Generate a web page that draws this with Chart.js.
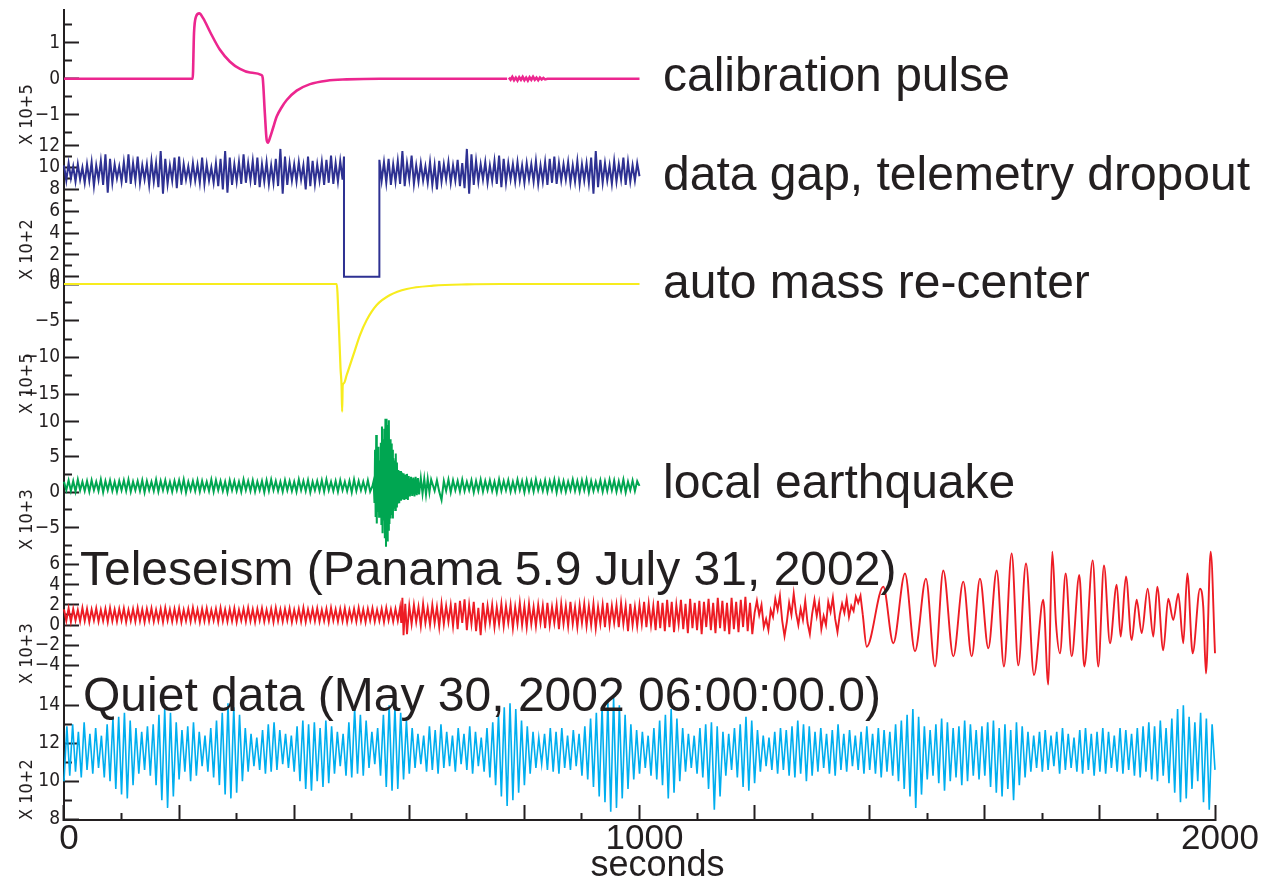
<!DOCTYPE html>
<html><head><meta charset="utf-8">
<script src="https://cdn.jsdelivr.net/npm/chart.js@4"></script>
<style>html,body{margin:0;padding:0;background:#fff;}canvas{display:block;}</style>
</head><body>
<canvas id="c" width="1273" height="884"></canvas>
<script>
// ---------------- DATA (seconds on x, instrument counts on y) ----------------
const xTicks = [0,100,200,300,400,500,600,700,800,900,1000,1100,1200,1300,1400,1500,1600,1700,1800,1900,2000];
const xTickLabels = {0:'0', 1000:'1000', 2000:'2000'};

// 1. calibration pulse (x10+5)
const calTimes  = [0,223.6,225.9,229.4,235.1,242,253.7,271,288.4,305.8,323.2,343.5,345.3,349,352.2,354.5,358,363,369.6,378.3,387,404.3,427.5,456.5,491.2,549,770];
const calValues = [0,0,1.26,1.72,1.81,1.67,1.30,0.80,0.47,0.27,0.17,0.10,0.02,-0.96,-1.70,-1.77,-1.63,-1.38,-1.05,-0.79,-0.59,-0.33,-0.15,-0.055,-0.02,0,0];
const calNoise  = [0.03,-0.03,0.05,-0.04,0.03,-0.05,0.04,-0.03,0.05,-0.04,0.03,-0.05,0.04,-0.03,0.05,-0.03,0.03,-0.04,0.03,-0.02,0.02,-0.02]; // every 3 s from 773 s
const calTailTimes = [840,1000];
const calTailValues = [0,0];

// 2. data gap, telemetry dropout (x10+2) – samples every 4 s
const gapBefore = [10.2,8.8,10.4,9.0,10.1,8.7,10.3,8.9,10.0,8.6,
10.3,8.8,10.5,8.3,10.2,8.9,10.6,8.4,11.2,7.7,
10.8,8.6,10.3,9.0,10.1,8.7,10.5,8.6,11.2,8.5,
10.4,8.8,11.0,8.6,10.2,8.9,10.3,8.4,10.6,8.7,
10.4,8.2,11.5,7.6,10.8,8.5,10.2,8.8,10.9,8.1,
11.0,8.4,10.3,8.9,10.1,8.7,10.4,8.8,10.2,8.6,
10.9,8.5,10.3,8.8,10.0,8.6,10.4,8.3,10.8,8.0,
11.5,7.7,10.9,8.4,10.3,8.7,10.5,8.5,11.2,8.6,
10.4,8.8,10.6,8.4,10.9,8.2,10.3,8.7,10.5,8.5,
10.2,8.6,10.8,8.3,11.7,7.6,11.0,8.4,10.4,8.8,
10.3,8.7,10.5,8.9,10.2,8.0,11.0,8.3,10.6,8.5,
10.3,8.8,10.5,8.4,10.7,8.6,11.1,8.5,10.4,8.7,
10.6,8.9];
const gapEdgeTimes  = [486.5,486.5,548,548];
const gapEdgeValues = [11.0,0,0,10.7];
const gapAfter = [8.8,10.5,8.6,10.8,8.4,10.3,8.7,10.6,8.5,11.5,
8.3,10.4,8.9,11.1,8.5,10.2,8.7,10.4,8.8,10.1,
8.6,10.5,8.4,10.2,8.0,10.6,8.7,10.3,8.9,10.5,
8.6,10.2,8.8,10.7,8.3,10.4,8.1,11.7,7.6,11.2,
8.4,10.6,8.7,10.3,8.9,10.5,8.6,10.2,8.8,10.6,
8.5,11.1,8.2,10.8,8.6,10.4,8.9,10.3,8.7,10.5,
8.8,10.2,8.6,10.4,8.9,10.3,8.7,10.6,8.5,10.2,
8.7,10.5,8.4,10.8,8.6,11.0,8.5,10.4,8.8,10.3,
8.9,10.5,8.6,10.2,8.7,10.6,8.5,10.3,8.8,10.4,
8.6,10.9,7.6,11.5,8.2,10.7,8.6,10.4,8.8,10.2,
8.5,10.6,8.7,10.3,8.9,10.9,8.4,10.5,8.7,10.2,
8.8,10.4,9.2];

// 3. auto mass re-center (x10+5)
const recTimes  = [0,473.8,477.5,480.5,482.3,483.3,484.3,486.5,491.2,502.7,514.3,526,543.4,566.5,595.5,641.7,699.7,760,1000];
const recValues = [0,0,-5.5,-11.5,-13.9,-17.4,-13.8,-13.5,-12.4,-9.7,-6.95,-4.9,-2.86,-1.5,-0.68,-0.23,-0.05,0,0];

// 4. local earthquake (x10+3) – background every 4 s
const eqBefore = [1.5,0.3,1.7,0.2,1.6,0.1,1.8,0.3,1.5,0.2,
1.6,0.1,1.7,0.3,1.5,0.2,1.8,0.0,1.6,0.3,
1.7,0.2,1.5,0.1,1.6,0.3,1.7,0.2,1.8,0.1,
1.5,0.3,1.6,0.2,1.7,0.0,1.6,0.3,1.5,0.2,
1.8,0.1,1.6,0.3,1.7,0.2,1.5,0.1,1.6,0.3,
1.7,0.2,1.8,0.0,1.5,0.3,1.6,0.2,1.7,0.1,
1.6,0.3,1.5,0.2,1.8,0.1,1.7,0.3,1.6,0.2,
1.5,0.0,1.7,0.3,1.6,0.2,1.5,0.1,1.8,0.3,
1.6,0.2,1.7,0.1,1.5,0.3,1.6,0.0,1.7,0.2,
1.8,0.3,1.6,0.2,1.5,0.1,1.7,0.3,1.6,0.2,
1.5,0.1,1.8,0.3,1.6,0.2,1.7,0.0,1.5,0.3,
1.6,0.2,1.7,0.1,1.8,0.3,1.5,0.2,1.6,0.1,
1.7,0.3,1.5,0.2,1.6,0.0,1.8,0.2,1.6,0.3,
1.5,0.2,1.7,0.1];
const quakeTimes  = [536,538,539.5,540.5,541.5,542.5,543.5,544.5,545.5,546.5,547.5,548.5,549.5,550.5,551.5,552.5,553.5,554.5,555.5,556.5,557.5,558.5,559.5,560.5,561.5,562.5,563.5,564.5,565.5,566.5,567.5,568.5,569.5,570.5,571.5,572.5,573.5,574.5,575.5,576.5,577.5,578.5,579.5,581,582.5,584,585.5,587,588.5,590,591.5,593,594.5,596,597.5,599,601,603,605,607,609,611,613,615,617,620,623,626,629,632,635,638];
const quakeValues = [0.9,1.6,-1.5,6.0,-3.5,8.1,-4.4,5.0,-2.8,6.45,-3.45,4.5,-2.5,7.0,-4.5,9.3,-5.8,7.5,-4.0,9.0,-6.5,10.4,-7.7,10.4,-6.8,9.5,-5.3,10.2,-4.5,7.5,-3.7,6.9,-3.2,6.0,-3.7,4.8,-2.2,4.5,-2.5,5.5,-2.0,4.2,-1.6,3.15,-1.56,3.0,-1.2,2.8,-1.0,2.7,-1.1,2.5,-0.8,2.6,-1.1,2.3,-0.6,2.2,-0.5,2.1,-0.6,2.2,-0.4,2.0,-0.3,2.0,-0.2,1.9,-0.3,1.9,0.0,1.8];
const eqAfter = [0.2,1.7,0.1,-1.1,1.6,0.2,1.8,0.0,1.7,0.3,
1.6,0.1,1.8,0.2,1.5,0.3,1.7,0.0,1.6,0.2,
1.8,0.1,1.6,0.3,1.7,0.2,1.5,0.0,1.8,0.2,
1.6,0.3,1.7,0.1,1.5,0.2,1.8,0.3,1.6,0.0,
1.7,0.2,1.6,0.1,1.8,0.3,1.5,0.2,1.7,0.1,
1.6,0.3,1.8,0.0,1.7,0.2,1.6,0.1,1.5,0.3,
1.8,0.2,1.6,0.1,1.7,0.3,1.8,0.0,1.6,0.2,
1.5,0.3,1.7,0.1,1.6,0.2,1.8,0.3,1.7,0.1,
1.6,0.2,1.8,0.0,1.5,0.3,1.7,0.2,1.6,0.9];

// 5. teleseism (x10+3) – pre-event and body waves every 4 s
const teleQuiet = [1.55,0.4,1.65,0.3,1.6,0.45,1.5,0.35,1.7,0.4,
1.6,0.3,1.55,0.45,1.65,0.35,1.5,0.4,1.6,0.3,
1.7,0.4,1.55,0.35,1.6,0.45,1.65,0.3,1.5,0.4,
1.6,0.35,1.7,0.4,1.55,0.3,1.6,0.45,1.65,0.35,
1.5,0.4,1.6,0.3,1.7,0.45,1.55,0.35,1.6,0.4,
1.65,0.3,1.5,0.4,1.6,0.35,1.7,0.45,1.55,0.3,
1.6,0.4,1.65,0.35,1.5,0.45,1.6,0.3,1.7,0.4,
1.55,0.35,1.6,0.4,1.65,0.3,1.5,0.45,1.6,0.35,
1.7,0.4,1.55,0.3,1.6,0.45,1.65,0.35,1.5,0.4,
1.6,0.3,1.7,0.4,1.55,0.35,1.6,0.45,1.65,0.3,
1.5,0.4,1.6,0.35,1.7,0.3,1.55,0.45,1.6,0.4,
1.65,0.35,1.5,0.4,1.6,0.3,1.7,0.45,1.55,0.35,
1.6,0.4,1.65,0.3,1.5,0.45,1.6,0.35,1.7,0.4,
1.55,0.3,1.6,0.45,1.65,0.35,1.5,0.4,1.6,0.3,
1.7,0.45,1.55,0.35,1.6,0.4,1.75];
const arrivalTimes  = [586,588,590,593,596];
const arrivalValues = [0.2,2.7,-1.0,2.1,-0.9];
const teleBody = [1.9,0.1,2.0,0.3,1.8,-0.1,2.1,0.2,1.7,0.0,
2.0,0.2,1.8,-0.2,2.1,0.1,1.9,0.3,2.0,-0.1,
2.2,-0.4,2.4,0.2,2.55,-0.5,2.0,0.1,2.3,-0.6,
1.7,-1.0,2.2,0.0,1.9,0.2,2.0,-0.2,1.8,0.1,
2.1,-0.1,1.9,0.2,2.0,-0.3,1.8,0.1,2.2,0.0,
1.9,-0.2,2.1,0.1,1.8,-0.1,2.0,0.2,1.9,-0.3,
2.2,0.0,1.8,0.2,2.0,-0.4,2.1,0.1,1.9,-0.1,
2.3,0.1,1.8,-0.2,2.0,0.2,2.1,-0.1,1.9,0.0,
2.1,-0.3,1.8,0.1,2.0,-0.2,2.2,0.0,1.9,0.2,
2.0,-0.2,2.2,0.1,1.9,-0.6,2.1,0.0,1.8,-0.1,
2.0,0.1,2.3,-0.2,2.1,0.0,1.9,-0.5,2.4,-0.3,
2.2,-0.6,2.5,-0.2,2.3,-0.7,2.0,0.1,2.5,-0.4,
2.1,-0.8,2.6,-0.3,2.2,-0.5,2.4,-0.9,2.3,-0.2,
2.6,-0.5,2.2,-0.8,2.7,-0.3,2.4,-0.6,2.2,-0.9,
2.7,-0.4,2.3,-0.7,2.5,-0.2,2.8,-0.6,2.2,-0.9,
1.2,2.4,1.0,2.0,-0.2,0.6,-0.5,1.5,0.8,2.6,
1.5,2.9,0.4,-1.1,0.3,2.2,1.0,3.1,1.2,0.0,
1.6,0.5,2.4,0.2,-0.9,1.1,2.5,0.9,2.2,-0.4,
0.9,0.0,2.3,1.3,2.7,0.6,-0.7,1.0,2.1,1.2,
2.6,0.8,1.9,1.4,2.8,2.2,2.9,1.0];
const surfaceTimes  = [1388,1394.8,1423.6,1441.0,1461.3,1478.7,1497.8,1513.4,1527.9,1545.3,1562.6,1577.2,1591.6,1606.1,1620.7,1633.3,1646.7,1658.2,1671.6,1685.5,1701.6,1710.3,1717.3,1723.7,1730.6,1740.5,1751.0,1764.2,1772.9,1787.5,1797.2,1807.1,1817.5,1829.2,1836.1,1845.3,1855.2,1863.9,1872.6,1883.0,1892.8,1899.7,1910.1,1918.8,1927.5,1936.2,1944.9,1951.9,1961.2,1973.9,1979.6,1984.3,1992.5,2000];
const surfaceValues = [1.0,-2.15,3.8,-1.8,5.1,-2.6,4.6,-4.1,5.4,-3.1,4.3,-3.1,4.6,-2.3,5.4,-4.1,7.1,-4.0,6.1,-4.95,2.5,-5.9,7.25,0.2,-2.8,5.1,-3.1,4.95,-4.1,6.4,-4.1,5.9,-1.8,4.0,-1.15,4.8,-1.5,2.5,-0.8,3.6,-1.15,3.8,-2.5,2.6,0.5,3.1,-1.8,5.1,-2.8,3.6,1.8,-4.8,7.25,-2.8];

// 6. quiet data (x10+2) – samples every 5 s
const quietValues = [10.0,12.9,10.3,13.0,10.5,12.6,10.2,13.1,10.6,12.5,
10.4,12.8,10.7,12.4,10.2,13.0,10.0,13.3,9.6,13.4,
9.3,13.6,9.1,13.2,9.8,12.8,10.4,12.6,10.6,12.9,
10.3,13.0,9.8,13.5,9.0,13.8,8.6,13.6,9.2,13.1,
10.1,12.7,10.5,12.9,10.0,13.1,10.3,12.6,10.8,12.4,
10.5,12.8,10.2,13.2,9.8,13.6,9.3,14.1,9.1,13.9,
9.4,13.5,10.0,12.8,10.5,12.5,10.8,12.3,10.6,12.7,
10.4,13.0,10.5,13.1,10.6,12.7,10.9,12.5,10.7,12.4,
10.5,12.9,10.0,13.2,9.6,13.0,9.5,13.1,10.0,12.8,
9.7,13.2,9.9,12.9,10.4,12.6,10.8,12.5,10.3,13.1,
10.2,13.8,10.4,13.5,10.3,13.2,10.7,12.6,10.9,12.8,
10.3,13.5,9.7,14.0,9.5,13.9,9.6,13.6,10.1,13.2,
10.4,12.8,10.7,12.5,10.9,12.4,10.5,12.9,10.6,12.7,
10.4,13.0,10.7,12.6,10.8,12.4,10.5,12.8,10.9,12.5,
10.6,12.9,10.4,12.6,10.8,12.3,10.5,12.8,10.2,13.1,
9.8,13.5,9.2,13.9,8.7,14.1,9.0,13.8,9.4,13.2,
9.8,12.9,10.4,12.6,10.7,12.3,10.9,12.5,10.6,12.8,
10.5,12.6,10.4,12.8,10.7,12.4,10.6,12.7,10.8,12.5,
10.3,12.9,10.1,13.3,9.7,13.6,9.2,13.9,8.9,14.2,
8.4,14.4,8.6,14.0,9.1,13.5,9.6,13.0,10.1,12.7,
10.4,12.6,10.7,12.4,10.3,12.8,10.1,13.2,9.8,13.5,
9.1,13.8,9.4,13.3,10.0,12.8,10.5,12.5,10.7,12.4,
10.4,12.8,10.2,13.0,9.6,13.1,8.5,12.9,9.2,12.6,
10.3,12.5,10.6,12.8,10.2,13.0,9.7,13.4,9.5,13.2,
9.9,12.7,10.5,12.4,10.8,12.3,10.6,12.6,10.4,12.8,
10.6,12.7,10.3,12.9,10.2,13.2,10.4,13.0,10.0,12.9,
10.3,12.6,10.5,12.8,10.7,12.5,10.4,12.7,10.3,13.0,
10.6,12.5,10.5,12.7,10.8,12.4,10.6,12.6,10.4,12.9,
10.6,12.5,10.4,12.8,10.2,12.7,10.5,12.6,10.3,13.0,
10.0,13.2,9.6,13.5,9.2,13.8,8.6,13.4,9.3,12.9,
10.1,12.7,10.3,13.0,9.9,13.3,9.5,13.1,10.0,12.8,
10.2,12.9,9.8,13.2,10.0,13.0,10.3,12.7,10.1,12.9,
10.3,13.1,9.7,13.2,9.4,12.8,9.2,13.0,9.6,12.7,
9.0,13.1,9.8,12.9,10.2,12.6,10.5,12.4,10.7,12.6,
10.5,12.7,10.6,12.4,10.8,12.6,10.4,12.8,10.6,12.5,
10.7,12.3,10.5,12.7,10.4,12.8,10.6,12.5,10.3,12.6,
10.5,12.8,10.4,12.6,10.7,12.4,10.5,12.8,10.4,12.7,
10.6,12.5,10.3,12.8,10.2,12.9,10.5,13.1,10.1,12.9,
10.0,13.2,10.3,12.8,9.9,13.3,9.4,13.8,8.9,14.0,
9.1,13.4,9.6,13.1,10.0,13.6,8.9,13.3,8.5,13.0,
10.6];

// axis tick values per panel
const majorTicks = [[1,0,-1],[12,10,8,6,4,2,0],[0,-5,-10,-15],[10,5,0,-5],[6,4,2,0,-2,-4],[14,12,10,8]];
const minorTicks = [[1.5,0.5,-0.5,-1.5],[11,9,7,5,3,1],[-2.5,-7.5,-12.5],[7.5,2.5,-2.5,-7.5],[7,5,3,1,-1,-3,-5],[15,13,11,9]];
const axisTitles = ['X 10+5','X 10+2','X 10+5','X 10+3','X 10+3','X 10+2'];
const panelNames = ['calibration pulse','data gap, telemetry dropout','auto mass re-center','local earthquake','Teleseism (Panama 5.9 July 31, 2002)','Quiet data (May 30, 2002 06:00:00.0)'];

// ---------------- layout / style ----------------
const axisMin = [-1.837,-0.302,-17.71,-8.16,-5.84,7.963];
const axisMax = [1.903,12.06,0.545,11.07,7.43,15.12];
const panelHeights = [135,135,134,136,134,136];
const colors = ['#ec268f','#2e3192','#f7ec1e','#00a651','#ed1c24','#00aeef'];
const widths = [2.6,2.0,2.2,2.0,1.9,1.6];
const INK = '#231f20';
const NARROW = "'Liberation Sans Narrow','Arial Narrow','DejaVu Sans Condensed',sans-serif";
const SANS = "'Liberation Sans',Arial,Helvetica,sans-serif";
const labelPos = [[663,91],[663,190],[663,298],[663,498],[80,585],[83,711]];

function pts(T, V) { return T.map((t, i) => ({x: t, y: V[i]})); }
function run(t0, dt, V) { return V.map((v, i) => ({x: t0 + i * dt, y: v})); }

const traces = [
  {axis: 0, mode: 'monotone', data: pts(calTimes, calValues)},
  {axis: 0, mode: 'default', data: run(773, 3, calNoise).concat(pts(calTailTimes, calTailValues))},
  {axis: 1, mode: 'default', data: run(0, 4, gapBefore).concat(pts(gapEdgeTimes, gapEdgeValues), run(552, 4, gapAfter))},
  {axis: 2, mode: 'monotone', data: pts(recTimes, recValues)},
  {axis: 3, mode: 'default', data: run(0, 4, eqBefore).concat(pts(quakeTimes, quakeValues), run(644, 4, eqAfter))},
  {axis: 4, mode: 'default', data: run(0, 4, teleQuiet).concat(pts(arrivalTimes, arrivalValues), run(600, 4, teleBody))},
  {axis: 4, mode: 'monotone', data: pts(surfaceTimes, surfaceValues)},
  {axis: 5, mode: 'default', data: run(0, 5, quietValues)}
];

const fmt = v => v < 0 ? '\u2212' + Math.abs(v) : String(v);

const scales = {
  x: {
    type: 'linear', min: 0, max: 2000, position: 'bottom',
    afterBuildTicks: s => { s.ticks = xTicks.map(v => ({value: v})); },
    ticks: { autoSkip: false, maxRotation: 0, padding: 13, labelOffset: 5, color: INK,
      font: {family: SANS, size: 35}, callback: v => xTickLabels[v] !== undefined ? xTickLabels[v] : '' },
    grid: { drawOnChartArea: false, drawTicks: true, tickLength: -15, tickWidth: 2, tickColor: INK,
      tickBorderDash: c => (c.tick && c.tick.value % 200 === 0) ? [] : [8, 100] },
    border: { display: true, color: INK, width: 2 },
    title: { display: true, text: '\u2003seconds', color: INK, font: {family: SANS, size: 36, lineHeight: 1}, padding: {top: 0, bottom: 0} },
    afterFit: s => { s.height = 64; s.paddingLeft = 0; s.paddingRight = 0; }
  }
};
majorTicks.forEach((maj, i) => {
  const all = maj.concat(minorTicks[i]);
  scales['y' + i] = {
    type: 'linear', position: 'left', stack: 'traces', stackWeight: panelHeights[i], weight: 10 - i,
    min: axisMin[i], max: axisMax[i], bounds: 'data',
    afterBuildTicks: s => { s.ticks = all.map(v => ({value: v})); },
    ticks: { autoSkip: false, padding: 19, color: INK, font: {family: NARROW, size: 19},
      callback: v => maj.includes(v) ? fmt(v) : '' },
    grid: { drawOnChartArea: false, drawTicks: true, tickLength: -15, tickWidth: 2, tickColor: INK,
      tickBorderDash: c => (c.tick && maj.includes(c.tick.value)) ? [] : [0, 7, 9, 100] },
    border: { display: true, color: INK, width: 2 },
    title: { display: true, text: axisTitles[i], align: 'start', color: INK,
      font: {family: NARROW, size: 18}, padding: {top: 17, bottom: 0} },
    afterFit: s => { s.width = 64; s.paddingTop = 0; s.paddingBottom = 0; }
  };
});

const labelPlugin = {
  id: 'traceLabels',
  afterDraw(chart) {
    const ctx = chart.ctx;
    ctx.save();
    ctx.fillStyle = INK;
    ctx.font = '48px ' + SANS;
    ctx.textBaseline = 'alphabetic';
    ctx.textAlign = 'left';
    panelNames.forEach((t, i) => ctx.fillText(t, labelPos[i][0], labelPos[i][1]));
    ctx.restore();
  }
};

new Chart(document.getElementById('c'), {
  type: 'line',
  data: {
    datasets: traces.map(tr => ({
      label: panelNames[tr.axis], data: tr.data, yAxisID: 'y' + tr.axis, xAxisID: 'x',
      borderColor: colors[tr.axis], borderWidth: widths[tr.axis], pointRadius: 0, fill: false,
      tension: 0, cubicInterpolationMode: tr.mode, clip: false
    }))
  },
  options: {
    responsive: false, animation: false, devicePixelRatio: 1,
    layout: { padding: {top: 10, right: 58, bottom: 0, left: 0} },
    plugins: { legend: {display: false}, tooltip: {enabled: false}, title: {display: false} },
    scales: scales
  },
  plugins: [labelPlugin]
});
</script>
</body></html>
